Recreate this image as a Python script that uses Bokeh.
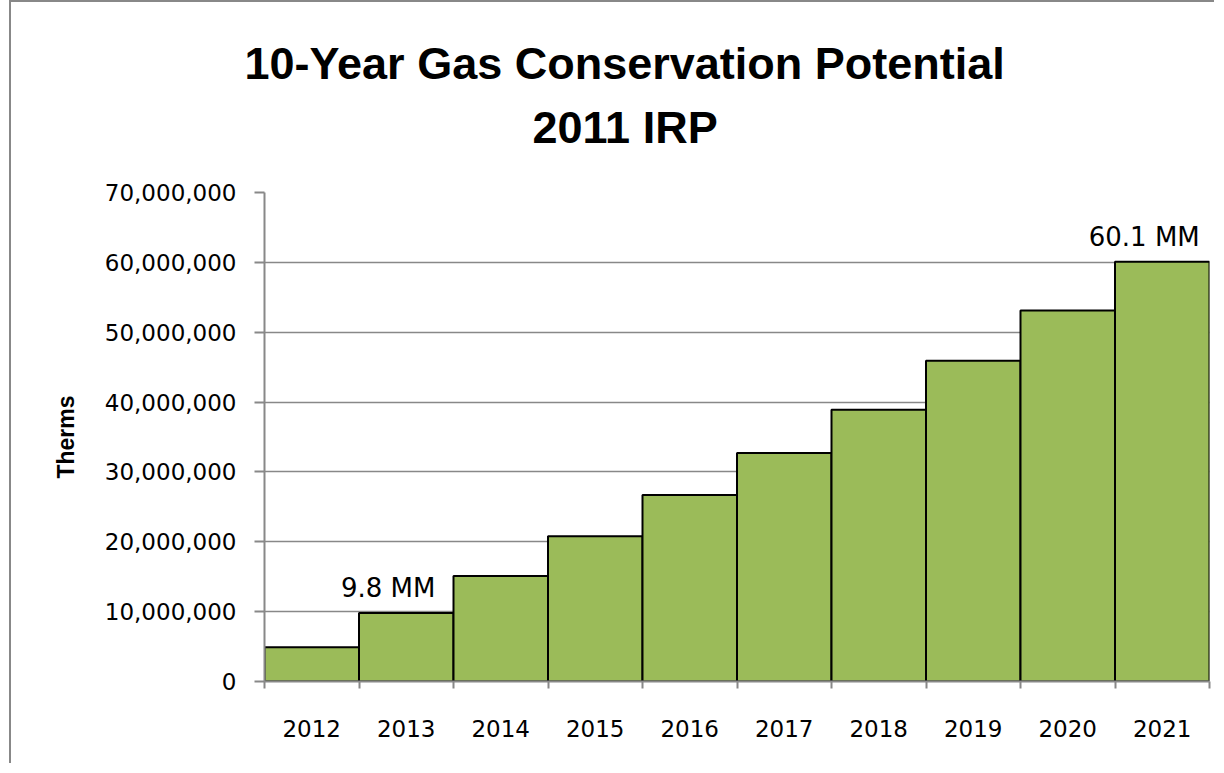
from bokeh.plotting import figure
from bokeh.models import Range1d, FixedTicker, NumeralTickFormatter, Title, ColumnDataSource
from bokeh.core.properties import value
from bokeh.embed import file_html
from bokeh.resources import INLINE

# ---- data ----
years = ["2012", "2013", "2014", "2015", "2016", "2017", "2018", "2019", "2020", "2021"]
therms = [4.9e6, 9.8e6, 15.1e6, 20.8e6, 26.7e6, 32.7e6, 38.9e6, 45.9e6, 53.1e6, 60.1e6]
y_ticks = [0, 10e6, 20e6, 30e6, 40e6, 50e6, 60e6, 70e6]
annot_years = ["2013", "2021"]
annot_texts = ["9.8 MM", "60.1 MM"]
title_line1 = "10-Year Gas Conservation Potential"
title_line2 = "2011 IRP"
y_label = "Therms"

# ---- derived positions on a numeric band scale ----
idx = list(range(len(years)))
lefts = [i for i in idx]
rights = [i + 1 for i in idx]
centers = [i + 0.5 for i in idx]
bounds = [i for i in range(len(years) + 1)]

src = ColumnDataSource(dict(left=lefts, right=rights, top=therms, year=years))

ann_x = [centers[years.index(y)] for y in annot_years]
ann_y = [therms[years.index(y)] for y in annot_years]
ann_src = ColumnDataSource(dict(x=ann_x, y=ann_y, text=annot_texts))

p = figure(width=1205, height=763,
           x_range=Range1d(0, len(years)), y_range=Range1d(0, y_ticks[-1]),
           output_backend="svg", toolbar_location=None,
           min_border_left=253, min_border_right=7,
           min_border_top=190, min_border_bottom=84)

p.outline_line_color = None
p.background_fill_color = "white"
p.border_fill_color = "white"

p.quad(left="left", right="right", bottom=0, top="top", source=src,
       fill_color="#9BBB59", line_color="black", line_width=2)

p.text(x="x", y="y", text="text", source=ann_src,
       text_font=value("DejaVu Sans"), text_font_size="26px",
       text_color="black", text_align="center", text_baseline="alphabetic",
       x_offset=-18, y_offset=-25)

# titles (outer = line 1, inner = line 2)
p.title.text = title_line1
p.title.align = "left"
p.title.offset = -20
p.title.standoff = -58
p.title.text_font = "Liberation Sans"
p.title.text_font_size = "45px"
p.title.text_font_style = "bold"
p.title.text_color = "black"

t2 = Title(text=title_line2, align="left", offset=268, standoff=80,
           text_font="Liberation Sans", text_font_size="45px",
           text_font_style="bold", text_color="black")
p.add_layout(t2, "above")

# x axis: labels at centers, tick marks at boundaries (minor ticks)
xa = p.xaxis[0]
xa.ticker = FixedTicker(ticks=centers, minor_ticks=bounds)
xa.major_label_overrides = {c: y for c, y in zip(centers, years)}
xa.major_tick_line_color = None
xa.major_tick_out = 7
xa.major_tick_in = 0
xa.minor_tick_line_color = "#888888"
xa.minor_tick_line_width = 2
xa.minor_tick_out = 7
xa.minor_tick_in = 0
xa.axis_line_color = "#888888"
xa.axis_line_width = 2
xa.major_label_text_font = "DejaVu Sans"
xa.major_label_text_font_size = "23px"
xa.major_label_text_color = "black"
xa.major_label_standoff = 31

# y axis
ya = p.yaxis[0]
ya.ticker = FixedTicker(ticks=y_ticks)
ya.formatter = NumeralTickFormatter(format="0,0")
ya.major_tick_line_color = "#888888"
ya.major_tick_line_width = 2
ya.major_tick_out = 10
ya.major_tick_in = 0
ya.minor_tick_line_color = None
ya.axis_line_color = "#888888"
ya.axis_line_width = 2
ya.major_label_text_font = "DejaVu Sans"
ya.major_label_text_font_size = "23px"
ya.major_label_text_color = "black"
ya.major_label_standoff = 18
ya.axis_label = y_label
ya.axis_label_text_font = "Liberation Sans"
ya.axis_label_text_font_size = "23px"
ya.axis_label_text_font_style = "bold"
ya.axis_label_text_color = "black"
ya.axis_label_standoff = 23

p.xgrid.visible = False
p.ygrid.ticker = FixedTicker(ticks=y_ticks)
p.ygrid.grid_line_color = "#888888"
p.ygrid.grid_line_width = 1.5

p.styles = {"border-top": "2px solid #888888", "border-left": "2px solid #888888",
            "margin-left": "9px"}

open("out.html", "w").write(file_html(p, INLINE))
